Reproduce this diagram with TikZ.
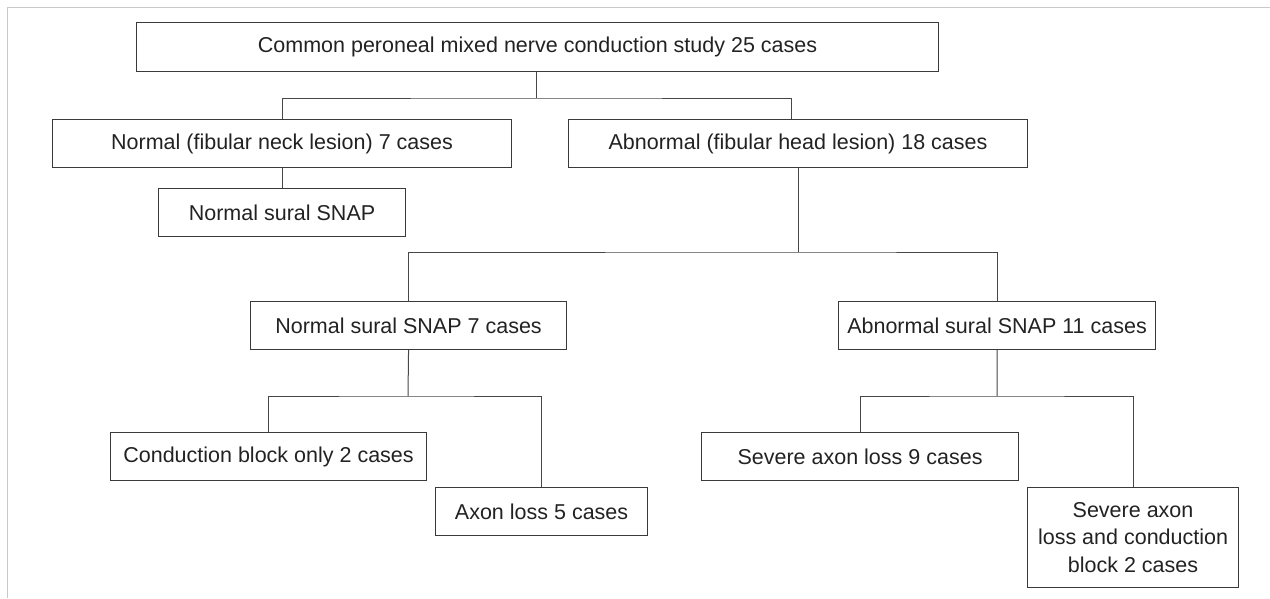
\documentclass[tikz,border=0pt]{standalone}
\usepackage{fontspec}
\setmainfont{Liberation Sans}
\begin{document}
\begin{tikzpicture}[x=1pt,y=-1pt,
  box/.style={draw=boxc, line width=1.1pt, text=txtc, inner sep=0pt, anchor=north west,
    font=\fontsize{21.5}{27.5}\selectfont, align=center},
  conn/.style={draw=linec, line width=1pt}]
\definecolor{boxc}{HTML}{3A3A3A}
\definecolor{linec}{HTML}{474747}
\definecolor{txtc}{HTML}{222222}
\definecolor{framec}{HTML}{C8C8C8}
\useasboundingbox (0,0) rectangle (1270,598);
% partial frame
\coordinate (f1) at (7,598);
\coordinate (f2) at (7,7);
\coordinate (f3) at (1270,7);
\draw[framec, line width=1pt] (f1) -- (f2) -- (f3);
% boxes
\node[box, minimum width=802pt, minimum height=49pt] (top) at (136,22) {Common peroneal mixed nerve conduction study 25 cases};
\node[box, minimum width=459pt, minimum height=48pt] (nn) at (52,119) {Normal (fibular neck lesion) 7 cases};
\node[box, minimum width=459pt, minimum height=48pt] (ab) at (568,119) {Abnormal (fibular head lesion) 18 cases};
\node[box, minimum width=247pt, minimum height=48pt] (ns) at (158,188) {Normal sural SNAP};
\node[box, minimum width=316pt, minimum height=48pt] (ns7) at (250,301) {Normal sural SNAP 7 cases};
\node[box, minimum width=317pt, minimum height=48pt] (as11) at (838,301) {Abnormal sural SNAP 11 cases};
\node[box, minimum width=316pt, minimum height=48pt] (cb) at (110,432) {Conduction block only 2 cases};
\node[box, minimum width=212pt, minimum height=48pt] (al) at (435,487) {Axon loss 5 cases};
\node[box, minimum width=317pt, minimum height=48pt] (sa9) at (701,432) {Severe axon loss 9 cases};
\node[box, minimum width=211pt, minimum height=100pt] (sacb) at (1027,487) {Severe axon\\loss and conduction\\block 2 cases};
% connectors
\coordinate (j1) at (536,98);
\coordinate (abin) at (791,119);
\draw[conn] (top.south -| j1) -- (j1);
\draw[conn] (nn.north) |- (j1) -| (abin);
\draw[conn] (nn.south) -- (ns.north);
\coordinate (j2) at (798,252);
\draw[conn] (ab.south -| j2) -- (j2);
\draw[conn] (ns7.north) |- (j2) -| (as11.north);
\coordinate (j3) at (408,396);
\draw[conn] (ns7.south) -- (j3);
\draw[conn] (cb.north) |- (j3) -| (al.north);
\coordinate (j4) at (997,396);
\draw[conn] (as11.south) -- (j4);
\draw[conn] (sa9.north) |- (j4) -| (sacb.north);
\end{tikzpicture}
\end{document}
